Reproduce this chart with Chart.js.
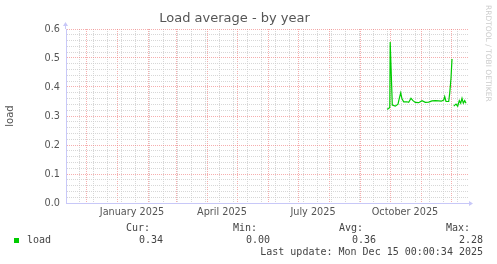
<!DOCTYPE html>
<html>
<head>
<meta charset="utf-8">
<title>Load average - by year</title>
<script src="https://cdn.jsdelivr.net/npm/chart.js@4.4.1/dist/chart.umd.min.js"></script>
<style>
  html, body { margin: 0; padding: 0; background: #fff; }
  #wrap { width: 497px; height: 264px; }
</style>
</head>
<body>
<div id="wrap"><canvas id="loadChart" width="497" height="264"></canvas></div>
<script>
// x values are days counted from 1 January 2025
const days = [270, 271.7, 272.8, 273.2, 275.3, 278.3, 281, 282.3, 283.7, 285, 286.7, 290, 291.7, 294, 296, 298.3,
  301.7, 305, 308.3, 311.7, 315, 318.3, 321.7, 324.3, 326.7, 327.7, 329, 331.7, 332.7, 334, 335,
  335.8, 336.7, 339, 340.7, 342.3, 343.7, 345, 346.3, 347.7, 349];
const load = [0.323, 0.326, 0.33, 0.555, 0.338, 0.334, 0.341, 0.361, 0.380, 0.359, 0.349, 0.349, 0.347, 0.361, 0.353, 0.347,
  0.346, 0.353, 0.347, 0.348, 0.352, 0.353, 0.352, 0.351, 0.355, 0.367, 0.350, 0.350, 0.378, 0.43, 0.497,
  null, 0.334, 0.341, 0.334, 0.353, 0.344, 0.361, 0.344, 0.353, 0.344];

const monthStarts = [-31, 0, 31, 59, 90, 120, 151, 181, 212, 243, 273, 304, 334];
const minorDays = [-38, -24, -10, 4, 18, 32, 46, 60, 74, 88, 102, 116, 130, 144, 158, 172, 186, 200, 214, 228,
  242, 256, 270, 284, 298, 312, 326, 340];
const labelDays = [15, 105, 196, 288];
const labelText = ['January 2025', 'April 2025', 'July 2025', 'October 2025'];

const statNames = ['Cur:', 'Min:', 'Avg:', 'Max:'];
const statValues = ['0.34', '0.00', '0.36', '2.28'];
const lastUpdate = 'Last update: Mon Dec 15 00:00:34 2025';

const majorCol = 'rgba(240,120,120,0.6)';
const minorCol = 'rgba(205,205,205,0.8)';
const axisCol = '#c8c8f8';

const extras = {
  id: 'extras',
  afterDraw(chart) {
    const c = chart.ctx, a = chart.chartArea;
    c.save();
    // axis extensions with arrows
    c.strokeStyle = axisCol; c.fillStyle = axisCol; c.lineWidth = 1;
    c.beginPath();
    c.moveTo(Math.round(a.left) - 0.5, a.top); c.lineTo(Math.round(a.left) - 0.5, a.top - 3);
    c.moveTo(a.right, Math.round(a.bottom) + 0.5); c.lineTo(a.right + 2, Math.round(a.bottom) + 0.5);
    c.stroke();
    c.beginPath();
    c.moveTo(a.left - 3, a.top - 3); c.lineTo(a.left + 2, a.top - 3); c.lineTo(a.left - 0.5, a.top - 7);
    c.closePath(); c.fill();
    c.beginPath();
    c.moveTo(a.right, a.bottom - 2); c.lineTo(a.right, a.bottom + 3); c.lineTo(a.right + 4, a.bottom + 0.5);
    c.closePath(); c.fill();

    // legend and stats
    c.font = '10px "DejaVu Sans Mono"';
    c.textBaseline = 'middle';
    c.fillStyle = '#00cc00';
    c.fillRect(14, 238, 5, 5);
    c.fillStyle = '#444';
    c.textAlign = 'left';
    c.fillText('load', 27, 240.5);
    const nameRight = [150, 257, 363, 470];
    const valRight = [163, 270, 376, 483];
    c.textAlign = 'right';
    statNames.forEach((n, i) => c.fillText(n, nameRight[i], 228));
    statValues.forEach((v, i) => c.fillText(v, valRight[i], 240.5));
    c.fillText(lastUpdate, 483, 252);

    // watermark
    c.translate(488, 5);
    c.rotate(Math.PI / 2);
    c.font = '7.5px "DejaVu Sans"';
    c.textAlign = 'left';
    c.fillStyle = '#cccccc';
    c.fillText('RRDTOOL / TOBI OETIKER', 0, 0);
    c.restore();
  }
};

new Chart(document.getElementById('loadChart'), {
  type: 'line',
  data: {
    datasets: [{
      label: 'load',
      data: days.map((d, i) => ({ x: d, y: load[i] })),
      borderColor: '#00cc00',
      borderWidth: 1.2,
      pointRadius: 0,
      fill: false,
      spanGaps: false,
      tension: 0
    }]
  },
  options: {
    responsive: false,
    animation: false,
    events: [],
    layout: { padding: { left: 0, right: 28, top: 0, bottom: 40 } },
    plugins: {
      legend: { display: false },
      tooltip: { enabled: false },
      title: {
        display: true,
        text: 'Load average - by year',
        color: '#555',
        font: { family: 'DejaVu Sans', size: 13, weight: 'normal' },
        padding: { top: 11, bottom: 2.4 }
      }
    },
    scales: {
      x: {
        type: 'linear',
        min: -51,
        max: 352,
        afterFit: s => { s.height = 21; },
        afterBuildTicks: s => {
          s.ticks = minorDays.concat(monthStarts, labelDays).map(v => ({ value: v }));
        },
        ticks: {
          autoSkip: false,
          maxRotation: 0,
          padding: 4,
          color: '#555',
          font: { family: 'DejaVu Sans', size: 9.7 },
          callback: v => {
            const i = labelDays.indexOf(v);
            return i >= 0 ? labelText[i] : '';
          }
        },
        grid: {
          drawTicks: false,
          color: ctx => {
            const v = ctx.tick ? ctx.tick.value : null;
            if (monthStarts.includes(v)) return majorCol;
            if (minorDays.includes(v)) return minorCol;
            return 'rgba(0,0,0,0)';
          }
        },
        border: { color: axisCol, dash: [1, 1] }
      },
      y: {
        min: 0,
        max: 0.6,
        afterFit: s => { s.width = 66; },
        ticks: {
          stepSize: 0.02,
          autoSkip: false,
          padding: 6,
          color: '#555',
          font: { family: 'DejaVu Sans', size: 9.7 },
          callback: v => {
            const k = Math.round(v * 10);
            return Math.abs(v * 10 - k) < 1e-6 ? (k / 10).toFixed(1) : '';
          }
        },
        grid: {
          drawTicks: false,
          color: ctx => {
            const v = ctx.tick ? ctx.tick.value : 0;
            if (v < 1e-6) return 'rgba(0,0,0,0)';
            const k = Math.round(v * 10);
            return Math.abs(v * 10 - k) < 1e-6 ? majorCol : minorCol;
          }
        },
        border: { color: axisCol, dash: [1, 1] },
        title: {
          display: true,
          text: 'load',
          color: '#555',
          font: { family: 'DejaVu Sans', size: 10 },
          padding: { top: 4, bottom: 0 }
        }
      }
    }
  },
  plugins: [extras]
});
</script>
</body>
</html>
